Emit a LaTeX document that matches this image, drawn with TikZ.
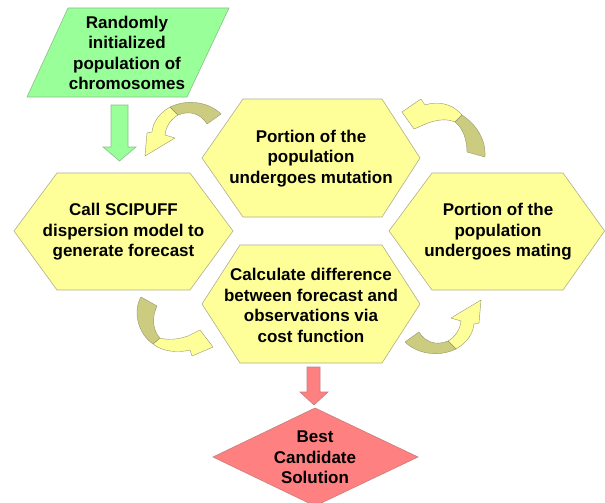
\documentclass[tikz,border=0pt]{standalone}
\usepackage{fontspec}
\setmainfont{Liberation Sans}
\definecolor{hexfill}{RGB}{255,255,153}
\definecolor{hexline}{RGB}{175,175,140}
\definecolor{grfill}{RGB}{153,255,153}
\definecolor{grline}{RGB}{140,190,140}
\definecolor{rdfill}{RGB}{255,128,128}
\definecolor{rdline}{RGB}{200,125,125}
\definecolor{darkband}{RGB}{204,204,128}
\definecolor{arrline}{RGB}{150,150,110}
\tikzset{
  hexshape/.style={fill=hexfill, draw=hexline, line width=0.6pt, line join=miter},
  grshape/.style={fill=grfill, draw=grline, line width=0.6pt},
  rdshape/.style={fill=rdfill, draw=rdline, line width=0.6pt},
  lbl/.style={font=\bfseries\fontsize{17}{20.5}\selectfont, align=center, text=black, inner sep=0pt},
  darkpart/.style={fill=darkband, draw=arrline, line width=0.4pt, line join=round},
  lightpart/.style={fill=hexfill, draw=arrline, line width=0.4pt, line join=round}
}
\newcommand\curvA{%
  \path[lightpart] (456,349) .. controls (468,342) and (473,333) .. (474,324) -- (479,323) -- (481,300) -- (451,318) -- (461,321) .. controls (460,330) and (455,337) .. (448,341) -- cycle;
  \path[darkpart] (405,342) .. controls (416,353) and (437,358) .. (456,349) -- (448,341) .. controls (436,346) and (425,342) .. (419,332) -- cycle;
}
\begin{document}
\begin{tikzpicture}[x=1pt,y=-1pt]
\useasboundingbox (0,0) rectangle (605,503);
\fill[white] (0,0) rectangle (605,503);

% start: parallelogram
\path[grshape] (68,8) -- (229,8) -- (187,97) -- (27,97) -- cycle;
\node[lbl] (start) at (127,53) {Randomly\\initialized\\population of\\chromosomes};

% green block arrow
\path[grshape] (111,105) -- (128,105) -- (128,147) -- (136,147) -- (119.5,161) -- (103,147) -- (111,147) -- cycle;

% hexagons
\path[hexshape] (14,231) -- (57,173) -- (190,173) -- (233,231) -- (190,290) -- (57,290) -- cycle;
\node[lbl] (call) at (123.5,232) {Call SCIPUFF\\dispersion model to\\generate forecast};

\path[hexshape] (202,158) -- (243,99) -- (382,99) -- (420,158) -- (382,217) -- (243,217) -- cycle;
\node[lbl] (mut) at (311,158.5) {Portion of the\\population\\undergoes mutation};

\path[hexshape] (389,231) -- (432,173) -- (563,173) -- (604.6,231) -- (563,290) -- (432,290) -- cycle;
\node[lbl] (mate) at (498,232) {Portion of the\\population\\undergoes mating};

\path[hexshape] (202,304) -- (240,245) -- (382,245) -- (420,304) -- (382,363) -- (240,363) -- cycle;
\node[lbl] (calc) at (311,305.5) {Calculate difference\\between forecast and\\observations via\\cost function};

% curved arrows
\curvA
\begin{scope}[rotate around={180:(313,228)}]
\curvA
\end{scope}
% bottom-left
\path[lightpart] (153,344) .. controls (163,352) and (178,353) .. (190,350) -- (192,356) -- (213,347) -- (200,330) -- (188,336) .. controls (176,340) and (167,340) .. (160,338) -- cycle;
\path[darkpart] (141,297) -- (157,306) .. controls (152,316) and (152,330) .. (160,338) -- (153,344) .. controls (137,333) and (133,310) .. (141,297) -- cycle;
% top-right
\path[lightpart] (462,115) .. controls (452,103) and (437,101) .. (425,105) -- (421,99) -- (402,112) -- (414,129) -- (428,123) .. controls (439,119) and (448,119) .. (455,122) -- cycle;
\path[darkpart] (462,115) .. controls (477,125) and (486,140) .. (485,157) -- (467,152) .. controls (467,140) and (463,128) .. (455,122) -- cycle;

% red block arrow
\path[rdshape] (307,367) -- (320,367) -- (320,392) -- (328,392) -- (314,405) -- (300,392) -- (307,392) -- cycle;

% diamond
\path[rdshape] (315,408) -- (418,457) -- (315,506) -- (213,457) -- cycle;
\node[lbl] (best) at (315,457.5) {Best\\Candidate\\Solution};
\end{tikzpicture}
\end{document}
